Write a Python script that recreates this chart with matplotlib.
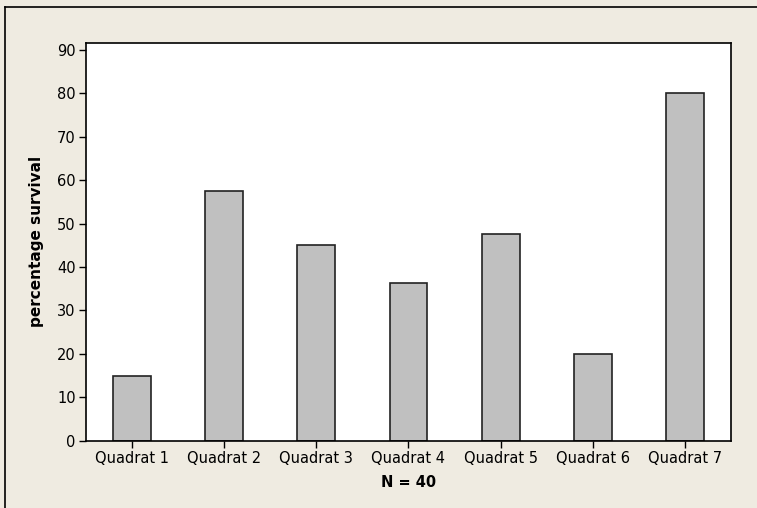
import matplotlib
matplotlib.use('Agg')
import matplotlib.pyplot as plt
from matplotlib.lines import Line2D

# data
quadrats = ['Quadrat 1', 'Quadrat 2', 'Quadrat 3', 'Quadrat 4',
            'Quadrat 5', 'Quadrat 6', 'Quadrat 7']
survival = [15, 57.5, 45, 36.4, 47.5, 20, 80]
y_ticks = [0, 10, 20, 30, 40, 50, 60, 70, 80, 90]

bg = '#EFEBE1'

fig = plt.figure(figsize=(7.57, 5.08), dpi=100, facecolor=bg)
ax = fig.add_axes([0.1136, 0.1325, 0.852, 0.7829])
ax.set_facecolor('white')

x = range(len(quadrats))
ax.bar(x, survival, width=0.41, color='#C0C0C0', edgecolor='#222222', linewidth=1.2)

ax.set_xlim(-0.5, 6.5)
ax.set_ylim(0, 91.6)
ax.set_yticks(y_ticks)
ax.set_xticks(list(x))
ax.set_xticklabels(quadrats)
ax.tick_params(axis='both', direction='out', length=5, width=1, labelsize=10.5,
               colors='black', pad=2.5)
for s in ax.spines.values():
    s.set_linewidth(1.2)
    s.set_color('black')

ax.set_ylabel('percentage survival', fontsize=11, fontweight='bold', labelpad=9)
ax.set_xlabel('N = 40', fontsize=10.5, fontweight='bold', labelpad=6.5)

# outer frame lines (top and left)
fig.add_artist(Line2D([0.0066, 1.0], [0.9872, 0.9872], transform=fig.transFigure,
                      color='black', linewidth=1.2))
fig.add_artist(Line2D([0.0066, 0.0066], [0.0, 0.9872], transform=fig.transFigure,
                      color='black', linewidth=1.2))

fig.savefig('out.png', dpi=100, facecolor=bg)
